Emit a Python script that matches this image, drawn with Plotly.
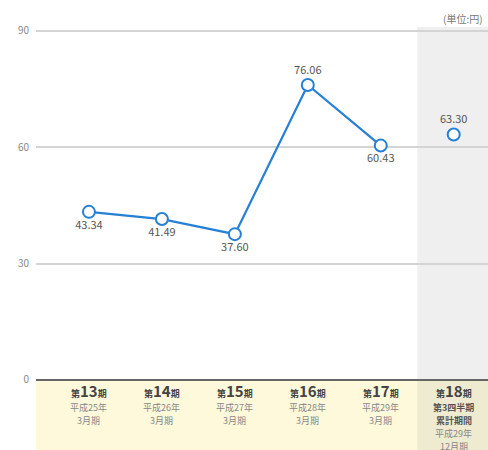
import plotly.graph_objects as go

periods = ["13", "14", "15", "16", "17", "18"]
sub_lines = [
    ["平成25年", "3月期"],
    ["平成26年", "3月期"],
    ["平成27年", "3月期"],
    ["平成28年", "3月期"],
    ["平成29年", "3月期"],
    ["平成29年", "12月期"],
]
extra_bold_18 = ["第3四半期", "累計期間"]
values = [43.34, 41.49, 37.60, 76.06, 60.43]
value_18 = 63.30
label_pos = ["bottom center", "bottom center", "bottom center", "top center", "bottom center"]
yticks = [0, 30, 60, 90]

JP = "Noto Sans CJK JP, Noto Sans, sans-serif"
BLUE = "#2680d6"
xs = list(range(len(periods)))

fig = go.Figure()
fig.add_trace(go.Scatter(
    x=xs[:5], y=values, mode="lines+markers+text",
    line=dict(color=BLUE, width=2.2),
    marker=dict(size=12, color="white", line=dict(color=BLUE, width=2)),
    text=[f"{v:.2f}" for v in values], textposition=label_pos,
    textfont=dict(family=JP, size=11, color="#555"),
    cliponaxis=False, hoverinfo="skip", showlegend=False,
))
fig.add_trace(go.Scatter(
    x=[xs[5]], y=[value_18], mode="markers+text",
    marker=dict(size=12, color="white", line=dict(color=BLUE, width=2)),
    text=[f"{value_18:.2f}"], textposition="top center",
    textfont=dict(family=JP, size=11, color="#555"),
    cliponaxis=False, hoverinfo="skip", showlegend=False,
))

shapes = [
    dict(type="rect", xref="paper", yref="y", x0=0, x1=1, y0=-30, y1=0,
         fillcolor="#fff9dc", line_width=0, layer="below"),
    dict(type="rect", xref="x", yref="y", x0=4.5, x1=5.6, y0=-30, y1=0,
         fillcolor="#eeebd0", line_width=0, layer="below"),
    dict(type="rect", xref="x", yref="y", x0=4.5, x1=5.6, y0=0, y1=100,
         fillcolor="#efefef", line_width=0, layer="below"),
]

annotations = []
for i, p in enumerate(periods):
    annotations.append(dict(
        x=i, y=0, xref="x", yref="y", yanchor="middle", yshift=-11, showarrow=False,
        text=f"<b><span style='font-size:9px'>第</span><span style='font-size:15px'>{p}</span><span style='font-size:9px'>期</span></b>",
        font=dict(family=JP, size=9, color="#444"),
    ))
    lines = sub_lines[i]
    bold = extra_bold_18 if i == 5 else []
    k = 0
    for b in bold:
        annotations.append(dict(
            x=i, y=0, xref="x", yref="y", yanchor="middle", yshift=-28 - 13 * k, showarrow=False,
            text=f"<b>{b}</b>", font=dict(family=JP, size=9, color="#555"),
        ))
        k += 1
    for s in lines:
        annotations.append(dict(
            x=i, y=0, xref="x", yref="y", yanchor="middle", yshift=-28 - 13 * k, showarrow=False,
            text=s, font=dict(family=JP, size=9, color="#888"),
        ))
        k += 1

annotations.append(dict(
    x=1, y=1, xref="paper", yref="paper", xanchor="right", yanchor="middle",
    xshift=-3, yshift=9, showarrow=False, text="(単位:円)",
    font=dict(family=JP, size=10, color="#777"),
))

fig.update_layout(
    width=488, height=450,
    margin=dict(l=36, r=0, t=27, b=0),
    paper_bgcolor="white", plot_bgcolor="white",
    shapes=shapes, annotations=annotations,
    xaxis=dict(range=[-0.726, 5.47], showgrid=False, zeroline=False,
               showticklabels=False, showline=False, fixedrange=True),
    yaxis=dict(range=[-18.05, 91], tickvals=yticks, ticktext=[str(t) for t in yticks],
               showgrid=True, gridcolor="#d4d4d4", gridwidth=1.5,
               zeroline=True, zerolinecolor="#666", zerolinewidth=2,
               tickfont=dict(family=JP, size=10, color="#888"),
               ticks="", ticklabelstandoff=6, showline=False, fixedrange=True),
)

fig.write_html(
    "out.html",
    config={"displayModeBar": False},
    post_script="document.body.style.margin='0';document.body.style.overflow='hidden';",
)
